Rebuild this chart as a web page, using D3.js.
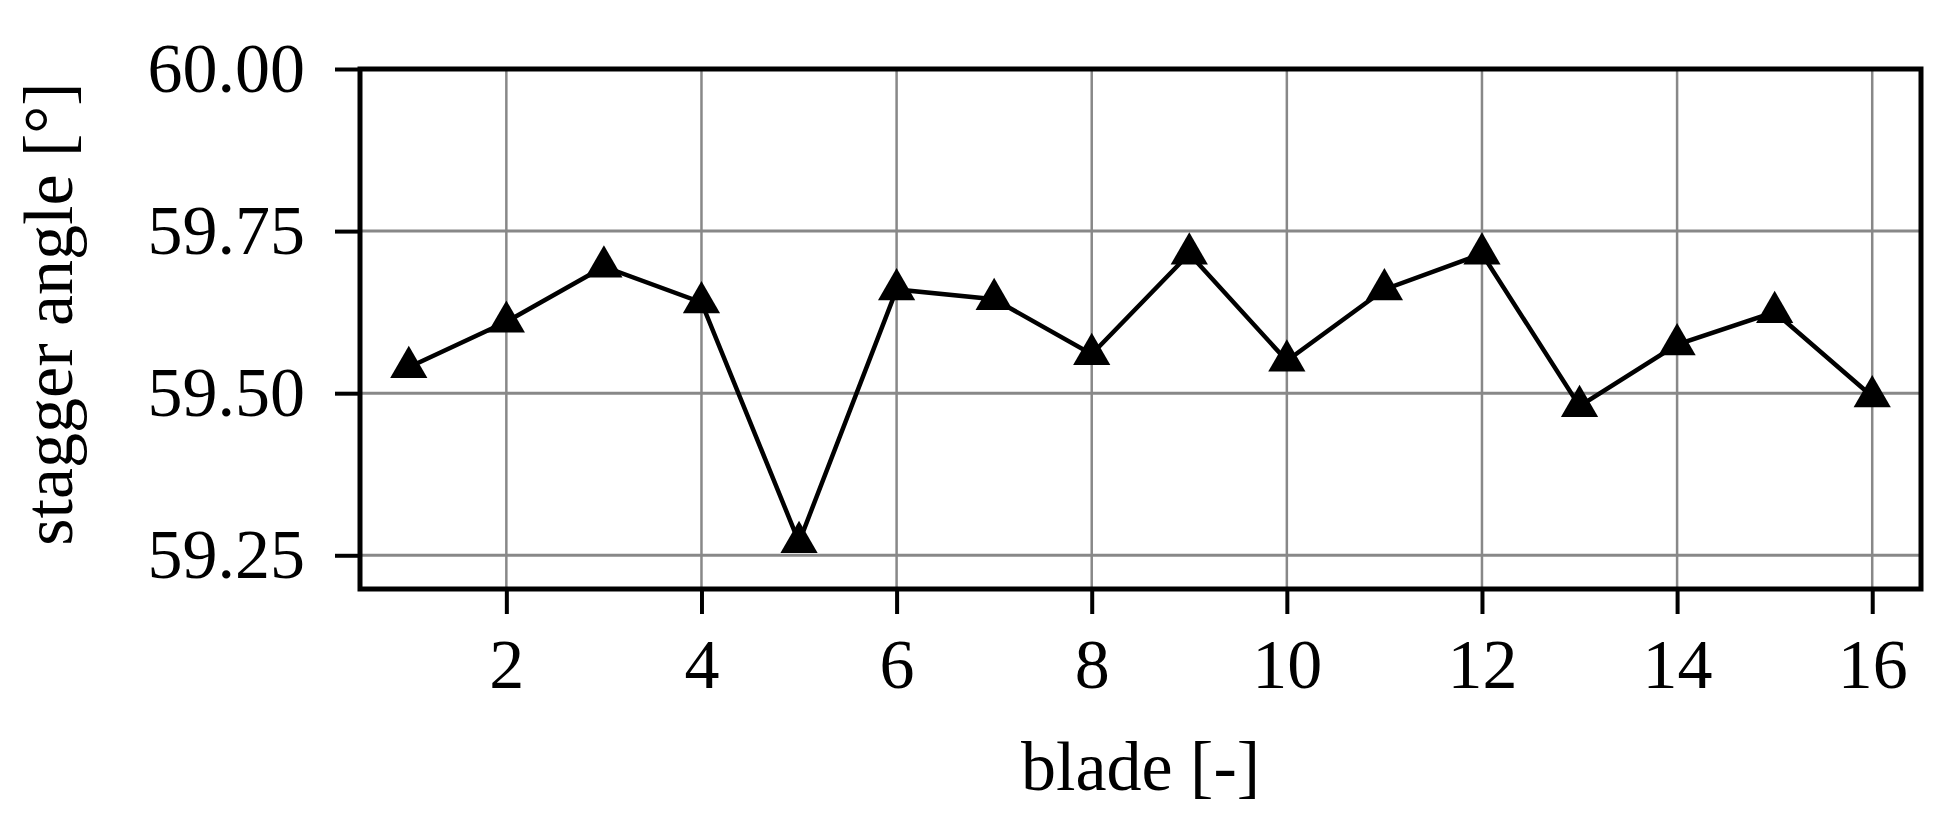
<!DOCTYPE html>
<html><head><meta charset="utf-8">
<script src="https://cdn.jsdelivr.net/npm/d3@7"></script>
<style>body{margin:0;background:#fff}svg{font-family:"Liberation Serif","Times New Roman",serif}</style>
</head><body><svg id="c" width="1955" height="835"></svg>
<script>
const blades = d3.range(1, 17);
const stagger = [59.54, 59.61, 59.695, 59.64, 59.27, 59.66, 59.645, 59.56, 59.715, 59.55, 59.66, 59.715, 59.48, 59.575, 59.625, 59.495];
const xTicks = [2, 4, 6, 8, 10, 12, 14, 16];
const yTicks = [59.25, 59.5, 59.75, 60.0];

const margin = { top: 69, right: 34, bottom: 246, left: 360 };
const W = 1955, H = 835;
const w = W - margin.left - margin.right, h = H - margin.top - margin.bottom;
const svg = d3.select("#c");
const g = svg.append("g").attr("transform", `translate(${margin.left},${margin.top})`);

const x = d3.scaleLinear().domain([0.5, 16.5]).range([0, w]);
const y = d3.scaleLinear().domain([59.198, 60.0]).range([h, 0]);

// grid
g.selectAll(".gx").data(xTicks).join("line")
  .attr("x1", d => x(d)).attr("x2", d => x(d)).attr("y1", 0).attr("y2", h)
  .attr("stroke", "#888").attr("stroke-width", 2.5);
g.selectAll(".gy").data(yTicks).join("line")
  .attr("x1", 0).attr("x2", w).attr("y1", d => y(d)).attr("y2", d => y(d))
  .attr("stroke", "#888").attr("stroke-width", 3);

const xAxis = g.append("g").attr("transform", `translate(0,${h})`)
  .call(d3.axisBottom(x).tickValues(xTicks).tickSize(25).tickPadding(24));
const yAxis = g.append("g")
  .call(d3.axisLeft(y).tickValues(yTicks).tickFormat(d3.format(".2f")).tickSize(25).tickPadding(30));
[xAxis, yAxis].forEach(a => {
  a.select(".domain").remove();
  a.selectAll("line").attr("stroke", "#000").attr("stroke-width", 4);
  a.selectAll("text").attr("font-size", 70).attr("fill", "#000")
    .attr("font-family", "Liberation Serif, serif");
});

g.append("rect").attr("width", w).attr("height", h)
  .attr("fill", "none").attr("stroke", "#000").attr("stroke-width", 5);

const line = d3.line().x((d, i) => x(blades[i])).y(d => y(d));
g.append("path").datum(stagger).attr("d", line)
  .attr("fill", "none").attr("stroke", "#000").attr("stroke-width", 4.5);
g.selectAll(".m").data(stagger).join("path")
  .attr("transform", (d, i) => `translate(${x(blades[i])},${y(d)})`)
  .attr("d", d3.symbol(d3.symbolTriangle, 600)).attr("fill", "#000");

svg.append("text").attr("x", margin.left + w / 2).attr("y", 790)
  .attr("text-anchor", "middle").attr("font-size", 70).text("blade [-]");
svg.append("text").attr("transform", `translate(72,${margin.top + 245}) rotate(-90)`)
  .attr("text-anchor", "middle").attr("font-size", 70).text("stagger angle [°]");
</script></body></html>
